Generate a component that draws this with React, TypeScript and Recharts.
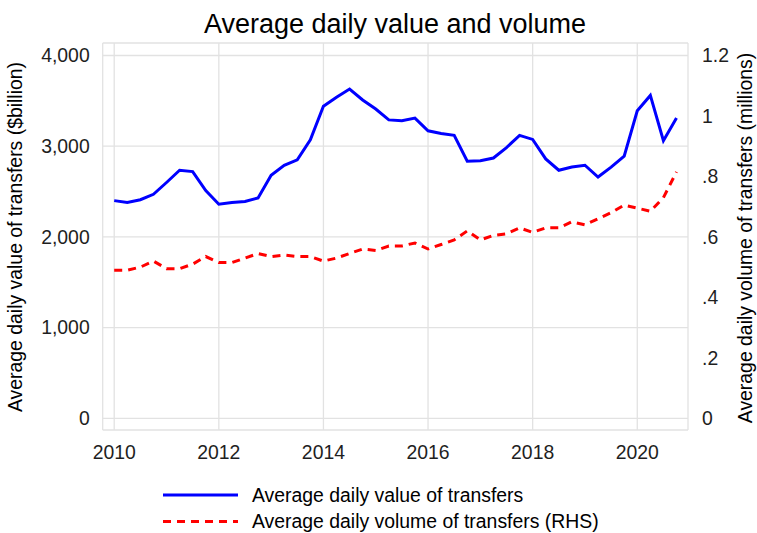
import { CartesianGrid, Line, LineChart, XAxis, YAxis } from "recharts"

// quarterly observations, decimal years
const quarters = [
  2010, 2010.25, 2010.5, 2010.75, 2011, 2011.25, 2011.5, 2011.75,
  2012, 2012.25, 2012.5, 2012.75, 2013, 2013.25, 2013.5, 2013.75,
  2014, 2014.25, 2014.5, 2014.75, 2015, 2015.25, 2015.5, 2015.75,
  2016, 2016.25, 2016.5, 2016.75, 2017, 2017.25, 2017.5, 2017.75,
  2018, 2018.25, 2018.5, 2018.75, 2019, 2019.25, 2019.5, 2019.75,
  2020, 2020.25, 2020.5, 2020.75,
]

// $billion
const valueOfTransfers = [
  2400, 2380, 2410, 2470, 2600, 2735, 2720, 2510,
  2360, 2380, 2390, 2430, 2680, 2790, 2850, 3070,
  3440, 3540, 3630, 3510, 3410, 3290, 3280, 3310,
  3170, 3140, 3120, 2835, 2840, 2870, 2985, 3120,
  3075, 2860, 2735, 2770, 2790, 2660, 2770, 2890,
  3390, 3560, 3060, 3310,
]

// millions
const volumeOfTransfers = [
  0.49, 0.49, 0.5, 0.52, 0.495, 0.495, 0.51, 0.535,
  0.515, 0.515, 0.53, 0.545, 0.535, 0.54, 0.535, 0.535,
  0.52, 0.53, 0.545, 0.56, 0.555, 0.57, 0.57, 0.58,
  0.56, 0.575, 0.59, 0.62, 0.59, 0.605, 0.61, 0.63,
  0.615, 0.63, 0.63, 0.65, 0.64, 0.66, 0.68, 0.705,
  0.695, 0.685, 0.73, 0.815,
]

const xTicks = [2010, 2012, 2014, 2016, 2018, 2020]
const leftTicks = [0, 1000, 2000, 3000, 4000]
const rightTicks = [0, 0.2, 0.4, 0.6, 0.8, 1, 1.2]

const series = [
  { key: "value", name: "Average daily value of transfers", color: "#0000ff", dash: undefined, axis: "left" },
  { key: "volume", name: "Average daily volume of transfers (RHS)", color: "#ff0000", dash: "8 6", axis: "right" },
]

const chartData = quarters.map((t, i) => ({
  t,
  value: valueOfTransfers[i],
  volume: volumeOfTransfers[i],
}))

const font = '"Liberation Sans", Arial, Helvetica, sans-serif'
const tickStyle = { fontSize: 19.4, fill: "#1f1f1f", fontFamily: font }

function fmtRight(v: number) {
  if (v === 0) return "0"
  return String(Number(v.toFixed(1))).replace(/^0\./, ".")
}

function Decorations() {
  return (
    <g fontFamily={font}>
      <text x={395} y={33} textAnchor="middle" fontSize={27} fill="#000">
        Average daily value and volume
      </text>
      <text x={21.5} y={237} textAnchor="middle" fontSize={19.4} fill="#000" transform="rotate(-90 21.5 237)">
        Average daily value of transfers ($billion)
      </text>
      <text x={752} y={238} textAnchor="middle" fontSize={19.4} fill="#000" transform="rotate(-90 752 238)">
        Average daily volume of transfers (millions)
      </text>
      {/* legend, two rows */}
      {series.map((s, i) => (
        <g key={s.key}>
          <line x1={163} x2={238} y1={495 + i * 26.5} y2={495 + i * 26.5} stroke={s.color} strokeWidth={3} strokeDasharray={s.dash} />
          <text x={252} y={502 + i * 26.3} fontSize={19.4} fill="#000">
            {s.name}
          </text>
        </g>
      ))}
    </g>
  )
}

export default function App() {
  return (
    <div style={{ position: "absolute", left: 0, top: 0, width: 757, height: 533, background: "#fff" }}>
      <LineChart width={757} height={533} data={chartData} margin={{ top: 43, right: 9, bottom: 73, left: 42.7 }}>
        <CartesianGrid yAxisId="left" stroke="#e2e2e2" strokeWidth={1.3} />
        <XAxis
          dataKey="t"
          type="number"
          domain={[2009.78, 2020.97]}
          ticks={xTicks}
          allowDataOverflow
          axisLine={false}
          tickLine={false}
          tickSize={0}
          tickMargin={15}
          tick={tickStyle}
        />
        <YAxis
          yAxisId="left"
          orientation="left"
          width={60}
          domain={[-129, 4138]}
          ticks={leftTicks}
          allowDataOverflow
          axisLine={false}
          tickLine={false}
          tickSize={0}
          tickMargin={13}
          tick={tickStyle}
          tickFormatter={(v: number) => v.toLocaleString("en-US")}
        />
        <YAxis
          yAxisId="right"
          orientation="right"
          width={60}
          domain={[-0.0387, 1.2414]}
          ticks={rightTicks}
          allowDataOverflow
          axisLine={false}
          tickLine={false}
          tickSize={0}
          tickMargin={14}
          tick={tickStyle}
          tickFormatter={fmtRight}
        />
        {series.map((s) => (
          <Line
            key={s.key}
            yAxisId={s.axis}
            dataKey={s.key}
            name={s.name}
            type="linear"
            stroke={s.color}
            strokeWidth={3}
            strokeDasharray={s.dash}
            dot={false}
            activeDot={false}
            isAnimationActive={false}
          />
        ))}
        <Decorations />
      </LineChart>
    </div>
  )
}
